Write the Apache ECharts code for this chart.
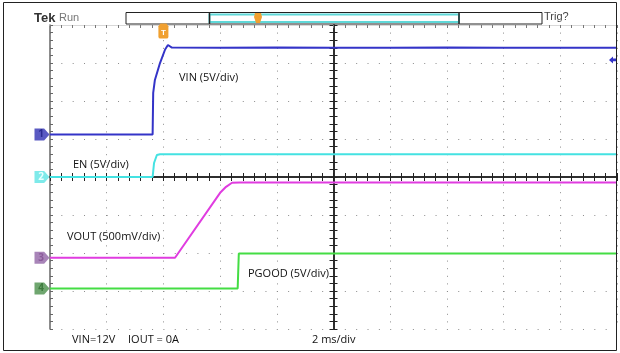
<!DOCTYPE html>
<html><head><meta charset="utf-8">
<script src="https://cdn.jsdelivr.net/npm/echarts@6/dist/echarts.min.js"></script>
<style>html,body{margin:0;padding:0;background:#fff}#c{width:620px;height:353px}</style>
</head><body><div id="c"></div>
<script>
// ---- Data (time in ms relative to trigger, 2 ms/div; values in volts) ----
const timeRange = [-4, 16];            // 10 divisions of 2 ms
const vinTime  = [-4, -0.38, -0.36, -0.30, -0.12, 0.06, 0.16, 0.30, 2, 4, 6, 8, 10, 12, 14, 16];
const vinVolts = [0, 0, 5.45, 7.16, 9.39, 11.17, 11.76, 11.43, 11.4, 11.42, 11.4, 11.4, 11.42, 11.4, 11.4, 11.4];
const enTime   = [-4, -0.38, -0.33, -0.23, -0.12, 16];
const enVolts  = [0, 0, 1.84, 2.89, 3.0, 3.0];
const voutTime = [-4, 0.41, 2.0, 2.21, 2.42, 2.7, 16];
const voutVolts= [0, 0, 0.855, 0.934, 0.987, 0.99, 0.99];
const pgTime   = [-4, 2.62, 2.66, 16];
const pgVolts  = [0, 0, 4.6, 4.6];
const triggerLevelV = 9.8;
// channel settings
const chNames  = ['VIN', 'EN', 'VOUT', 'PGOOD'];
const chLabels = ['1', '2', '3', '4'];
const chScale  = [5, 5, 0.5, 5];          // volts per division
const chOffset = [1.121, 0, -2.126, -2.934]; // ground position in divisions
const chColors = ['#3434c8', '#44e2e2', '#e03ce0', '#44dd44'];
const chMarkerFill = ['#5a5ac2', '#7eeaea', '#a884b8', '#6fa66f'];
const chMarkerText = ['#2a2a90', '#e8ffff', '#8a5a9a', '#3d7a3d'];

const times = [vinTime, enTime, voutTime, pgTime];
const volts = [vinVolts, enVolts, voutVolts, pgVolts];

const chart = echarts.init(document.getElementById('c'), null, {renderer: 'canvas'});
const G = {left: 50, top: 25, width: 567, height: 304, containLabel: false, outerBoundsMode: 'none'};
const FONT = '"Open Sans", "Liberation Sans", sans-serif';

const series = chNames.map((name, i) => {
  const data = times[i].map((t, k) => [t, chOffset[i] + volts[i][k] / chScale[i]]);
  const mp = [{
    coord: [timeRange[0], chOffset[i]],
    symbol: 'path://M0,0 L9,0 L14,6 L9,12 L0,12 Z',
    symbolSize: [15, 12], symbolOffset: [-8, 0],
    itemStyle: {color: chMarkerFill[i]},
    label: {show: true, formatter: chLabels[i], color: chMarkerText[i], fontSize: 10, fontWeight: 'bold', fontFamily: FONT, offset: [-1, 0]}
  }];
  if (i === 0) {
    mp.push({
      coord: [timeRange[1], chOffset[0] + triggerLevelV / chScale[0]],
      symbol: 'path://M0,5 L6,0 L6,3 L12,3 L12,7 L6,7 L6,10 Z',
      symbolSize: [8, 7], symbolOffset: [-4, 0],
      itemStyle: {color: chColors[0]}, label: {show: false}
    });
    mp.push({
      coord: [0, 4],
      symbol: 'path://M2,0 L8,0 L10,3 L10,14 Q10,16 8,16 L2,16 Q0,16 0,14 L0,3 Z',
      symbolSize: [10, 15], symbolOffset: [0, 6],
      itemStyle: {color: '#f0a030'},
      label: {show: true, formatter: 'T', color: '#fff', fontSize: 8, fontWeight: 'bold', offset: [0, 2]}
    });
  }
  return {
    name, type: 'line', xAxisIndex: 0, yAxisIndex: 0, data,
    showSymbol: false, clip: false, animation: false, z: 5 + i,
    lineStyle: {color: chColors[i], width: 2},
    markPoint: {data: mp, animation: false, z: 20}
  };
});

const tickLine = {show: true, length: 4, lineStyle: {color: '#222'}};
const minor = {show: true, splitNumber: 5, length: 4, lineStyle: {color: '#222'}};

const option = {
  backgroundColor: '#fff',
  animation: false,
  grid: [Object.assign({}, G), Object.assign({}, G)],
  xAxis: [
    {gridIndex: 0, type: 'value', min: timeRange[0], max: timeRange[1], interval: 2,
     axisLine: {show: false, onZero: false}, axisTick: {show: false}, axisLabel: {show: false},
     splitLine: {show: true, lineStyle: {color: '#8c8c8c', type: [1, 6.6], width: 1}}},
    {gridIndex: 0, type: 'value', min: timeRange[0], max: timeRange[1], interval: 2, position: 'top',
     axisLine: {show: true, onZero: false, lineStyle: {color: '#d8d8d8'}},
     axisTick: {show: true, inside: true, length: 3, lineStyle: {color: '#777'}},
     minorTick: {show: true, splitNumber: 5, length: 3, lineStyle: {color: '#777'}},
     axisLabel: {show: false}, splitLine: {show: false}},
    {gridIndex: 1, type: 'value', min: -5, max: 5, interval: 1, position: 'bottom',
     axisLine: {show: true, onZero: true, onZeroAxisIndex: 2, lineStyle: {color: '#222', width: 1.5}},
     axisTick: tickLine, minorTick: minor, axisLabel: {show: false}, splitLine: {show: false}},
    {gridIndex: 1, type: 'value', min: -5, max: 5, interval: 1, position: 'top',
     axisLine: {show: true, onZero: true, onZeroAxisIndex: 2, lineStyle: {color: '#222', width: 1.5}},
     axisTick: tickLine, minorTick: minor, axisLabel: {show: false}, splitLine: {show: false}}
  ],
  yAxis: [
    {gridIndex: 0, type: 'value', min: -4, max: 4, interval: 1,
     axisLine: {show: false, onZero: false}, axisTick: {show: false}, axisLabel: {show: false},
     splitLine: {show: true, lineStyle: {color: '#8c8c8c', type: [1, 10.34], width: 1}}},
    {gridIndex: 0, type: 'value', min: -4, max: 4, interval: 1, position: 'left',
     axisLine: {show: true, onZero: false, lineStyle: {color: '#666', width: 1.5}},
     axisTick: {show: true, inside: true, length: 3, lineStyle: {color: '#666'}},
     minorTick: {show: true, splitNumber: 5, length: 3, lineStyle: {color: '#666'}},
     axisLabel: {show: false}, splitLine: {show: false}},
    {gridIndex: 1, type: 'value', min: -4, max: 4, interval: 1, position: 'left',
     axisLine: {show: true, onZero: true, onZeroAxisIndex: 2, lineStyle: {color: '#222', width: 1.5}},
     axisTick: tickLine, minorTick: minor, axisLabel: {show: false}, splitLine: {show: false}},
    {gridIndex: 1, type: 'value', min: -4, max: 4, interval: 1, position: 'right',
     axisLine: {show: true, onZero: true, onZeroAxisIndex: 2, lineStyle: {color: '#222', width: 1.5}},
     axisTick: tickLine, minorTick: minor, axisLabel: {show: false}, splitLine: {show: false}}
  ],
  series,
  graphic: [
    {type: 'rect', shape: {x: 3.5, y: 2.5, width: 613, height: 348}, style: {fill: 'none', stroke: '#222', lineWidth: 1}, z: 100},
    {type: 'text', style: {x: 34, y: 18, text: 'Tek', font: 'bold 13px "Liberation Sans", sans-serif', fill: '#333', verticalAlign: 'middle'}},
    {type: 'text', style: {x: 59, y: 18, text: 'Run', font: '11px "Liberation Sans", sans-serif', fill: '#777', verticalAlign: 'middle'}},
    {type: 'rect', shape: {x: 126, y: 12.5, width: 416, height: 11.5}, style: {fill: '#fff', stroke: '#222', lineWidth: 1}},
    {type: 'rect', shape: {x: 209.5, y: 14.5, width: 249.5, height: 7.5}, style: {fill: '#fff', stroke: '#5fd8d8', lineWidth: 2}},
    {type: 'line', shape: {x1: 209.5, y1: 12.5, x2: 209.5, y2: 24}, style: {stroke: '#222', lineWidth: 1.5}},
    {type: 'line', shape: {x1: 459, y1: 12.5, x2: 459, y2: 24}, style: {stroke: '#222', lineWidth: 1.5}},
    {type: 'polygon', shape: {points: [[255, 13], [261, 13], [262, 17], [260, 23], [256, 23], [254, 17]]}, style: {fill: '#f0a030'}},
    {type: 'text', style: {x: 544, y: 17, text: 'Trig?', font: '11px "Liberation Sans", sans-serif', fill: '#444', verticalAlign: 'middle'}},
    {type: 'text', style: {x: 179, y: 78, text: 'VIN (5V/div)', font: '11px ' + FONT, fill: '#111', verticalAlign: 'middle'}},
    {type: 'text', style: {x: 73, y: 165, text: 'EN (5V/div)', font: '11px ' + FONT, fill: '#111', verticalAlign: 'middle'}},
    {type: 'text', style: {x: 67, y: 237, text: 'VOUT (500mV/div)', font: '11px ' + FONT, fill: '#111', verticalAlign: 'middle'}},
    {type: 'text', style: {x: 248, y: 274, text: 'PGOOD (5V/div)', font: '11px ' + FONT, fill: '#111', verticalAlign: 'middle'}},
    {type: 'text', style: {x: 72, y: 340, text: 'VIN=12V', font: '11px ' + FONT, fill: '#111', verticalAlign: 'middle'}},
    {type: 'text', style: {x: 128, y: 340, text: 'IOUT = 0A', font: '11px ' + FONT, fill: '#111', verticalAlign: 'middle'}},
    {type: 'text', style: {x: 312, y: 340, text: '2 ms/div', font: '11px ' + FONT, fill: '#111', verticalAlign: 'middle'}}
  ]
};
chart.setOption(option);
</script>
</body></html>
